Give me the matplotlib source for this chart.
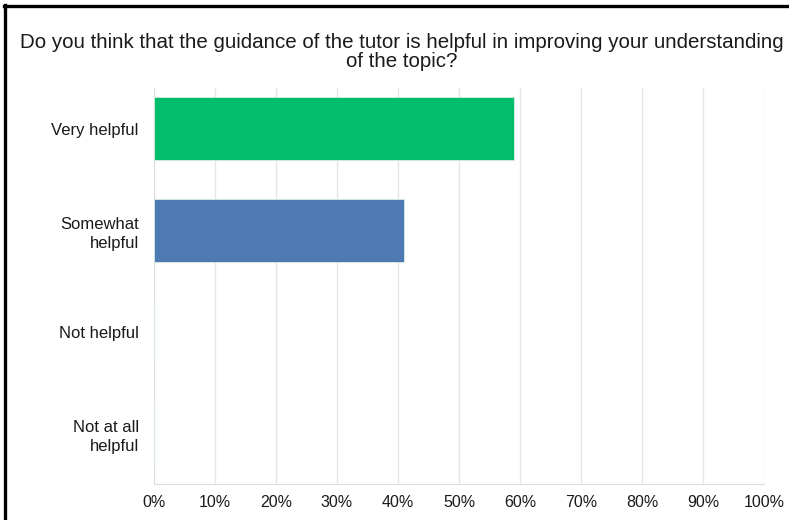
import matplotlib
matplotlib.use("Agg")
import matplotlib.pyplot as plt
from matplotlib.lines import Line2D

plt.rcParams['font.family'] = ['Liberation Sans', 'DejaVu Sans']

title = "Do you think that the guidance of the tutor is helpful in improving your understanding\nof the topic?"
categories = ["Very helpful", "Somewhat\nhelpful", "Not helpful", "Not at all\nhelpful"]
values = [59, 41, 0, 0]
colors = ["#02BE6C", "#4E7AB4", "#4E7AB4", "#4E7AB4"]
xticks = [0, 10, 20, 30, 40, 50, 60, 70, 80, 90, 100]
xticklabels = [f"{v}%" for v in xticks]

fig = plt.figure(figsize=(7.89, 5.20), dpi=100)
ax = fig.add_axes([154/789, 1-484/520, (764-154)/789, (484-88)/520])

ypos = list(range(len(categories)))
ax.barh(ypos, values, height=0.62, color=colors, edgecolor="#d8ece0", linewidth=0.6, zorder=3)
ax.set_ylim(len(categories)-0.5, -0.4)
ax.set_xlim(0, 100)
ax.set_yticks(ypos)
ax.set_yticklabels(categories, fontsize=12, color="#1a1a1a", ha="right", linespacing=1.35)
ax.set_xticks(xticks)
ax.set_xticklabels(xticklabels, fontsize=11.5, color="#1a1a1a")
ax.tick_params(axis="both", length=0)
ax.tick_params(axis="x", pad=8)
ax.tick_params(axis="y", pad=11)
ax.grid(axis="x", color="#e6e6e6", linewidth=1, zorder=0)
for s in ["top", "right"]:
    ax.spines[s].set_visible(False)
ax.spines["left"].set_color("#dcdcdc")
ax.spines["bottom"].set_color("#dcdcdc")

fig.text(402/789, 1-52/520, title, ha="center", va="center", fontsize=14.8,
         color="#1a1a1a", linespacing=1.06)

# frame lines (left and top)
fig.add_artist(Line2D([5/789, 5/789], [0, 1-5/520], transform=fig.transFigure,
                      color="black", linewidth=2.4))
fig.add_artist(Line2D([4/789, 1], [1-6/520, 1-6/520], transform=fig.transFigure,
                      color="black", linewidth=2.4))

fig.savefig("out.png", dpi=100, facecolor="white")
